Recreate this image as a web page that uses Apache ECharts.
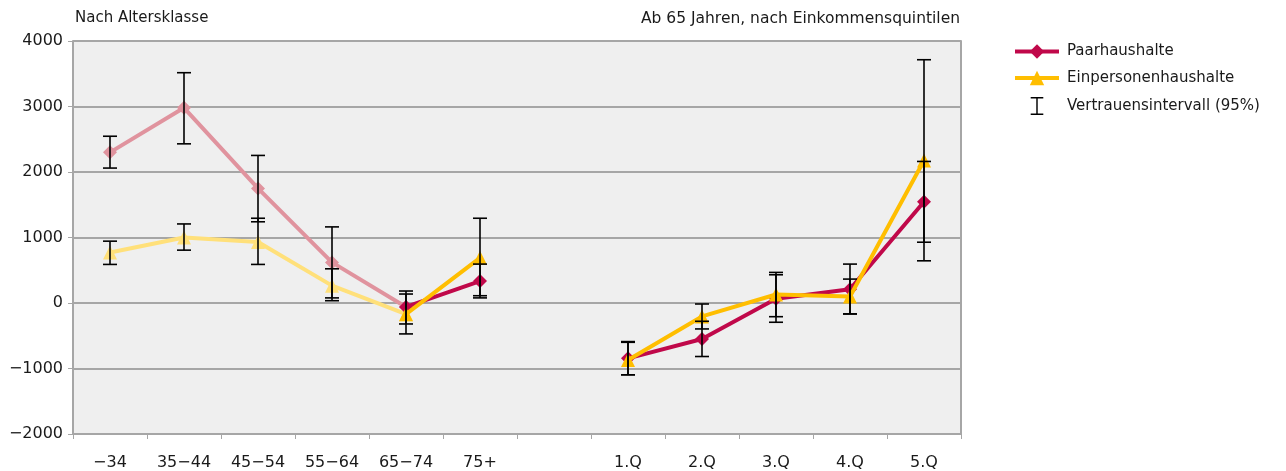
<!DOCTYPE html>
<html>
<head>
<meta charset="utf-8">
<script src="https://cdn.jsdelivr.net/npm/echarts@6/dist/echarts.min.js"></script>
<style>
  html, body { margin: 0; padding: 0; background: #fff; }
  #chart { width: 1286px; height: 471px; }
</style>
</head>
<body>
<div id="chart"></div>
<script>
// Kategorien: Altersklassen, Lücke, Einkommensquintile
var categories = ['\u221234', '35\u221244', '45\u221254', '55\u221264', '65\u221274', '75+', '', '1.Q', '2.Q', '3.Q', '4.Q', '5.Q'];
var yTicks = [-2000, -1000, 0, 1000, 2000, 3000, 4000];

// Werte je Kategorie (null = keine Daten)
var paarValues = [2300, 2980, 1750, 620, -60, 335, null, -845, -550, 65, 210, 1545];
var paarLow    = [2060, 2430, 1240, 78, -320, 78, null, -1096, -817, -294, -167, 928];
var paarHigh   = [2546, 3516, 2253, 1162, 183, 594, null, -589, -279, 431, 594, 2161];

var einsValues = [770, 1000, 930, 265, -170, 690, null, -870, -205, 130, 100, 2175];
var einsLow    = [589, 807, 589, 35, -472, 111, null, -1096, -396, -209, -167, 644];
var einsHigh   = [944, 1207, 1294, 522, 137, 1294, null, -600, -15, 467, 365, 3714];

var chart = echarts.init(document.getElementById('chart'));

// Teile der Linien: hell bis 65-74, danach kräftig
function part(values, from, to) {
    return values.map(function (v, i) { return (i >= from && i <= to) ? v : null; });
}

var errData = [];
for (var i = 0; i < categories.length; i++) {
    if (paarValues[i] !== null) errData.push([i, paarLow[i], paarHigh[i]]);
    if (einsValues[i] !== null) errData.push([i, einsLow[i], einsHigh[i]]);
}

function renderErr(params, api) {
    var x = api.value(0);
    var lo = api.coord([x, api.value(1)]);
    var hi = api.coord([x, api.value(2)]);
    var w = 7;
    var st = { stroke: '#000', lineWidth: 1.6 };
    return {
        type: 'group',
        children: [
            { type: 'line', shape: { x1: lo[0], y1: lo[1], x2: hi[0], y2: hi[1] }, style: st },
            { type: 'line', shape: { x1: lo[0] - w, y1: lo[1], x2: lo[0] + w, y2: lo[1] }, style: st },
            { type: 'line', shape: { x1: hi[0] - w, y1: hi[1], x2: hi[0] + w, y2: hi[1] }, style: st }
        ]
    };
}

var fontFam = '"DejaVu Sans", sans-serif';

var option = {
    animation: false,
    textStyle: { fontFamily: fontFam },
    grid: {
        left: 73, right: 325, top: 41, bottom: 36,
        show: true, backgroundColor: '#EFEFEF', borderWidth: 0
    },
    graphic: [
        { type: 'text', left: 75, top: 11, style: { text: 'Nach Altersklasse', fontSize: 15, fill: '#1a1a1a', fontFamily: fontFam } },
        { type: 'text', right: 326, top: 11, style: { text: 'Ab 65 Jahren, nach Einkommensquintilen', fontSize: 15.5, fill: '#1a1a1a', fontFamily: fontFam } }
    ],
    legend: {
        orient: 'vertical',
        left: 1008,
        top: 39,
        itemWidth: 44,
        itemHeight: 18,
        itemGap: 11.5,
        lineStyle: { width: 4 },
        textStyle: { fontSize: 15, color: '#1a1a1a', fontFamily: fontFam, padding: [0, 0, 0, 3] },
        data: [
            { name: 'Paarhaushalte' },
            { name: 'Einpersonenhaushalte' },
            { name: 'Vertrauensintervall (95%)', icon: 'path://M0,0H14V1.6H7.8V18.4H14V20H0V18.4H6.2V1.6H0Z', itemStyle: { color: '#000' } }
        ]
    },
    xAxis: {
        type: 'category',
        data: categories,
        boundaryGap: true,
        axisLine: { onZero: false, lineStyle: { color: '#A6A6A6', width: 2 } },
        axisTick: { show: true, interval: 0, length: 5, lineStyle: { color: '#A6A6A6' } },
        axisLabel: { interval: 0, fontSize: 16, color: '#1a1a1a', margin: 21 }
    },
    yAxis: [{
        type: 'value',
        min: yTicks[0],
        max: yTicks[yTicks.length - 1],
        interval: 1000,
        axisLine: { show: true, lineStyle: { color: '#A6A6A6', width: 2 } },
        axisTick: { show: true, length: 5, lineStyle: { color: '#A6A6A6' } },
        axisLabel: {
            fontSize: 16, color: '#1a1a1a', margin: 10,
            formatter: function (v) { return v < 0 ? '\u2212' + Math.abs(v) : String(v); }
        },
        splitLine: { lineStyle: { color: '#A6A6A6', width: 2 } }
    }, {
        type: 'value',
        position: 'right',
        min: yTicks[0],
        max: yTicks[yTicks.length - 1],
        interval: 1000,
        axisLine: { show: true, lineStyle: { color: '#A6A6A6', width: 2 } },
        axisTick: { show: false },
        axisLabel: { show: false },
        splitLine: { show: false }
    }],
    series: [
        {
            name: 'Paar hell', type: 'line', data: part(paarValues, 0, 4),
            symbol: 'diamond', symbolSize: 14, showAllSymbol: true,
            lineStyle: { color: '#E0939E', width: 4 }, itemStyle: { color: '#E0939E' }, z: 2
        },
        {
            name: 'Eins hell', type: 'line', data: part(einsValues, 0, 4),
            symbol: 'triangle', symbolSize: 14, showAllSymbol: true,
            lineStyle: { color: '#FFE07A', width: 4 }, itemStyle: { color: '#FFE07A' }, z: 2
        },
        {
            name: 'Paarhaushalte', type: 'line', data: part(paarValues, 4, 11),
            symbol: 'diamond', symbolSize: 14, showAllSymbol: true, connectNulls: false,
            lineStyle: { color: '#C0084A', width: 4 }, itemStyle: { color: '#C0084A' }, z: 3
        },
        {
            name: 'Einpersonenhaushalte', type: 'line', data: part(einsValues, 4, 11),
            symbol: 'triangle', symbolSize: 14, showAllSymbol: true, connectNulls: false,
            lineStyle: { color: '#FFBE00', width: 4 }, itemStyle: { color: '#FFBE00' }, z: 4
        },
        {
            name: 'Vertrauensintervall (95%)', type: 'custom',
            renderItem: renderErr, data: errData,
            encode: { x: 0, y: [1, 2] },
            itemStyle: { color: '#000' }, z: 10
        }
    ]
};

chart.setOption(option);
</script>
</body>
</html>
